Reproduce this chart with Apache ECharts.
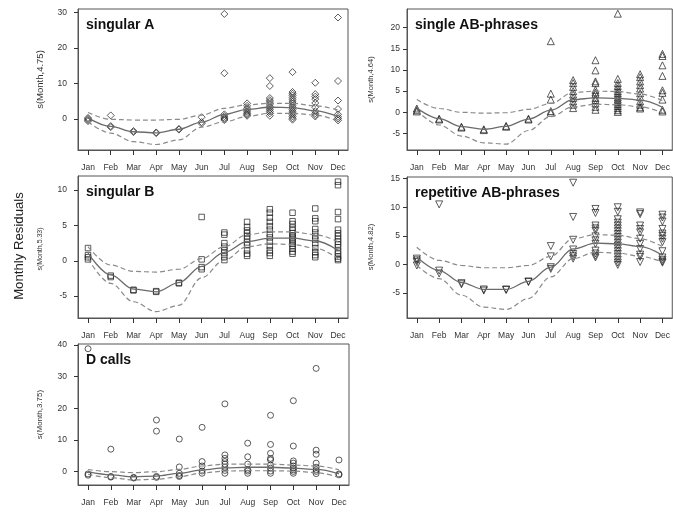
<!DOCTYPE html>
<html>
<head>
<meta charset="utf-8">
<script src="https://cdn.jsdelivr.net/npm/echarts@6/dist/echarts.min.js"></script>
<style>
html, body { margin: 0; padding: 0; background: #ffffff; }
#chart { width: 673px; height: 512px; }
</style>
</head>
<body>
<div id="chart"></div>
<script>
// Month labels for the x axes
const months = ['Jan', 'Feb', 'Mar', 'Apr', 'May', 'Jun', 'Jul', 'Aug', 'Sep', 'Oct', 'Nov', 'Dec'];

// ---- singular A: s(Month,4.75) ----
const singularA_fit   = [0.3, -2.1, -3.6, -3.9, -2.9, -0.9, 1.3, 2.7, 3.3, 3.2, 2.3, 0.7];
const singularA_upper = [1.8, -0.1, -0.3, -0.3, -0.1, 1.1, 3.0, 4.0, 4.4, 4.4, 3.7, 2.5];
const singularA_lower = [-0.8, -4.0, -6.4, -7.2, -5.9, -2.3, -0.8, 0.7, 1.6, 1.6, 1.1, -0.6];
const singularA_resid = [
  [0.3, 0.0, -0.3, -0.6],
  [1.0, -2.0, -2.3],
  [-3.4, -3.7],
  [-3.8, -4.0],
  [-2.8, -3.0],
  [0.5, -0.9, -1.3],
  [29.6, 12.9, 1.3, 0.8, 0.3, 0.0, -0.3],
  [4.4, 3.7, 3.0, 2.5, 2.0, 1.6, 1.2, 0.9],
  [11.5, 9.3, 5.9, 5.3, 4.8, 4.2, 3.6, 3.1, 2.6, 2.1, 1.6, 0.9],
  [13.2, 7.6, 7.1, 6.6, 6.0, 5.4, 4.8, 4.3, 3.7, 3.2, 2.7, 2.2, 1.7, 1.2, 0.7, 0.2, -0.2],
  [10.2, 7.0, 6.3, 5.6, 4.5, 3.3, 2.2, 1.6, 1.1, 0.7],
  [28.6, 10.7, 5.2, 2.8, 1.3, 0.6, 0.1, -0.4]
];
const singularA_ticks = [0, 10, 20, 30];

// ---- single AB-phrases: s(Month,4.64) ----
const singleAB_fit   = [1.0, -1.5, -3.4, -4.0, -3.3, -1.6, 0.5, 3.0, 3.4, 3.3, 2.9, 1.2];
const singleAB_upper = [3.0, 0.9, 0.0, -0.2, -0.1, 0.7, 2.1, 4.7, 5.0, 4.9, 4.3, 2.8];
const singleAB_lower = [0.5, -3.0, -5.6, -7.2, -7.5, -4.3, -1.0, 1.3, 1.9, 1.8, 1.3, -0.1];
const singleAB_resid = [
  [0.9, 0.5, 0.2],
  [-1.5, -1.7],
  [-3.4, -3.6],
  [-4.0, -4.2],
  [-3.2, -3.4],
  [-1.5, -1.7],
  [16.8, 4.4, 3.0, 0.3, -0.1],
  [7.6, 6.9, 6.0, 5.0, 4.2, 3.4, 2.6, 1.8, 1.0],
  [12.3, 9.9, 7.3, 6.9, 5.3, 4.7, 4.3, 3.4, 2.9, 2.1, 1.3, 0.6],
  [23.3, 7.9, 6.9, 6.2, 5.6, 5.0, 4.5, 4.0, 3.5, 3.0, 2.5, 2.0, 1.5, 1.0, 0.5, 0.1],
  [9.0, 8.3, 7.3, 6.4, 5.6, 4.5, 3.6, 2.6, 1.8, 1.2, 0.9],
  [13.8, 13.3, 11.1, 8.6, 5.2, 4.6, 3.0, 0.6, 0.2]
];
const singleAB_ticks = [-5, 0, 5, 10, 15, 20];

// ---- singular B: s(Month,5.33) ----
const singularB_fit   = [1.1, -2.0, -4.0, -4.4, -3.1, -0.8, 1.2, 2.7, 3.2, 3.2, 2.8, 1.5];
const singularB_upper = [2.0, -0.6, -1.5, -1.6, -1.2, 0.3, 2.0, 3.7, 4.1, 4.1, 3.7, 2.7];
const singularB_lower = [0.3, -3.2, -5.8, -7.2, -6.3, -2.4, 0.1, 2.0, 2.4, 2.3, 1.8, 0.3];
const singularB_resid = [
  [1.8, 0.8, 0.5, 0.2],
  [-2.1, -2.3],
  [-4.1, -4.2],
  [-4.3, -4.4],
  [-3.1, -3.2],
  [6.2, 0.2, -0.9, -1.2],
  [4.0, 3.7, 2.5, 2.0, 1.5, 1.1, 0.6, 0.1],
  [5.5, 4.8, 4.3, 3.9, 3.5, 3.1, 2.6, 2.2, 1.5, 1.0, 0.7],
  [7.3, 6.8, 6.1, 5.5, 4.9, 4.4, 3.8, 3.3, 2.7, 2.1, 1.5, 1.1, 0.7],
  [6.8, 5.6, 5.2, 4.7, 4.3, 3.9, 3.6, 3.3, 3.0, 2.7, 2.4, 2.1, 1.7, 1.3, 1.0],
  [7.4, 6.0, 5.6, 4.5, 4.0, 3.5, 3.0, 2.5, 1.8, 1.2, 0.8, 0.5],
  [11.2, 10.7, 6.9, 5.9, 4.4, 3.9, 3.5, 3.1, 2.7, 2.3, 1.9, 1.4, 1.0, 0.6, 0.3, 0.1]
];
const singularB_ticks = [-5, 0, 5, 10];

// ---- repetitive AB-phrases: s(Month,4.82) ----
const repetitiveAB_fit   = [1.3, -1.1, -3.2, -4.4, -4.4, -3.0, -0.5, 2.7, 3.7, 3.6, 3.1, 1.6];
const repetitiveAB_upper = [3.0, 0.7, -0.2, -0.6, -0.6, -0.2, 1.4, 4.5, 5.2, 5.1, 4.5, 3.1];
const repetitiveAB_lower = [-0.2, -2.5, -5.4, -7.5, -7.9, -6.0, -2.2, 1.0, 2.1, 2.0, 1.4, 0.4];
const repetitiveAB_resid = [
  [1.0, 0.7, 0.4, -0.2],
  [10.5, -1.1, -1.6],
  [-3.3, -3.5],
  [-4.4, -4.6],
  [-4.4, -4.5],
  [-3.0, -3.1],
  [3.2, 1.4, -0.5, -0.8],
  [14.3, 8.3, 4.3, 2.6, 1.8, 1.4, 1.0],
  [9.7, 9.0, 6.8, 6.3, 5.9, 4.9, 4.2, 3.6, 2.4, 1.9, 1.5, 1.2],
  [10.0, 9.2, 7.9, 7.3, 6.8, 6.3, 5.8, 5.3, 4.8, 4.3, 3.8, 3.3, 2.8, 2.3, 1.8, 1.3, 0.8, 0.3, -0.1],
  [9.1, 8.8, 6.8, 6.2, 5.6, 4.5, 3.6, 2.7, 1.7, 1.3, 0.4],
  [8.7, 8.2, 7.5, 6.2, 5.4, 5.0, 4.5, 3.9, 2.3, 1.2, 0.8, 0.5, 0.3]
];
const repetitiveAB_ticks = [-5, 0, 5, 10, 15];

// ---- D calls: s(Month,3.75) ----
const dCalls_fit   = [0.0, -1.0, -1.6, -1.4, -0.5, 0.6, 1.2, 1.4, 1.4, 1.1, 0.7, -0.7];
const dCalls_upper = [0.7, 0.0, -0.3, 0.0, 0.7, 1.8, 2.4, 2.4, 2.4, 2.1, 1.8, 0.6];
const dCalls_lower = [-0.8, -1.9, -2.6, -2.4, -1.6, -0.4, 0.2, 0.3, 0.3, 0.2, -0.3, -1.8];
const dCalls_resid = [
  [38.8, -0.7, -1.1],
  [7.1, -1.5, -1.7],
  [-1.8, -2.0],
  [16.3, 12.8, -1.5, -1.8],
  [10.3, 1.5, -0.5, -1.2, -1.5],
  [14.0, 3.2, 1.8, 0.2, -0.5],
  [21.4, 5.3, 4.2, 3.2, 2.4, 1.4, 0.4, -0.5],
  [9.0, 4.7, 2.4, 0.7, 0.2, -0.5],
  [17.8, 8.6, 5.8, 4.2, 3.7, 2.1, 1.1, 0.2, -0.5],
  [22.4, 8.1, 3.4, 2.7, 1.8, 1.1, 0.6, 0.1, -0.5],
  [32.6, 6.8, 5.5, 2.7, 1.4, 0.6, 0.1, -0.6],
  [3.7, -0.7, -1.0]
];
const dCalls_ticks = [0, 10, 20, 30, 40];

// ---- panel layout and styling ----
const FONT = 'Liberation Sans, Arial, Helvetica, sans-serif';
const TICK_COLOR = '#333333';
const panels = [
  { title: 'singular A', yName: 's(Month,4.75)', fit: singularA_fit, upper: singularA_upper, lower: singularA_lower,
    resid: singularA_resid, ticks: singularA_ticks, yMin: -8.75, yMax: 31.0,
    grid: { left: 78, top: 9, width: 270, height: 141 }, symbol: 'diamond', size: 7, rot: 0,
    labelGap: 11, yNamePos: [40, 79.5], yNameSize: 9.5 },
  { title: 'single AB-phrases', yName: 's(Month,4.64)', fit: singleAB_fit, upper: singleAB_upper, lower: singleAB_lower,
    resid: singleAB_resid, ticks: singleAB_ticks, yMin: -8.9, yMax: 24.4,
    grid: { left: 407, top: 9, width: 270, height: 141 }, symbol: 'triangle', size: 7, rot: 0,
    labelGap: 7, yNamePos: [370.5, 79.5], yNameSize: 7.5 },
  { title: 'singular B', yName: 's(Month,5.33)', fit: singularB_fit, upper: singularB_upper, lower: singularB_lower,
    resid: singularB_resid, ticks: singularB_ticks, yMin: -8.1, yMax: 12.0,
    grid: { left: 78, top: 176, width: 270, height: 142 }, symbol: 'rect', size: 5.5, rot: 0,
    labelGap: 11, yNamePos: [40, 249], yNameSize: 7 },
  { title: 'repetitive AB-phrases', yName: 's(Month,4.82)', fit: repetitiveAB_fit, upper: repetitiveAB_upper, lower: repetitiveAB_lower,
    resid: repetitiveAB_resid, ticks: repetitiveAB_ticks, yMin: -9.4, yMax: 15.3,
    grid: { left: 407, top: 177, width: 270, height: 141 }, symbol: 'triangle', size: 7, rot: 180,
    labelGap: 7, yNamePos: [370.5, 247], yNameSize: 7.5 },
  { title: 'D calls', yName: 's(Month,3.75)', fit: dCalls_fit, upper: dCalls_upper, lower: dCalls_lower,
    resid: dCalls_resid, ticks: dCalls_ticks, yMin: -4.2, yMax: 40.3,
    grid: { left: 78, top: 344, width: 271, height: 141 }, symbol: 'circle', size: 6, rot: 0,
    labelGap: 11, yNamePos: [40, 414.5], yNameSize: 8 }
];

const monthIdx = months.map((m, i) => i + 1);
const grids = [], xAxes = [], yAxes = [], series = [], graphics = [];

panels.forEach((p, k) => {
  grids.push(Object.assign({ show: true, borderColor: '#555', borderWidth: 1 }, p.grid));

  xAxes.push({
    type: 'value', gridIndex: k, min: 0.56, max: 12.44,
    axisLine: { show: true, onZero: false, lineStyle: { color: '#555' } },
    splitLine: { show: false },
    axisTick: { show: true, length: 5, customValues: monthIdx, lineStyle: { color: TICK_COLOR, width: 1 } },
    axisLabel: { customValues: monthIdx, margin: 13, fontSize: 8.5, color: '#333', fontFamily: FONT,
                 formatter: v => months[Math.round(v) - 1] || '' }
  });

  yAxes.push({
    type: 'value', gridIndex: k, min: p.yMin, max: p.yMax,
    axisLine: { show: true, onZero: false, lineStyle: { color: '#555' } },
    splitLine: { show: false },
    axisTick: { show: true, length: 4, customValues: p.ticks, lineStyle: { color: TICK_COLOR, width: 1 } },
    axisLabel: { customValues: p.ticks, margin: p.labelGap, fontSize: 8.5, color: '#333', fontFamily: FONT }
  });

  // residual points
  const pts = [];
  p.resid.forEach((vals, i) => vals.forEach(v => pts.push([i + 1, v])));
  series.push({
    type: 'scatter', xAxisIndex: k, yAxisIndex: k, data: pts, silent: true,
    symbol: p.symbol, symbolSize: p.size, symbolRotate: p.rot,
    itemStyle: { color: 'rgba(255,255,255,0)', borderColor: '#1a1a1a', borderWidth: 1, opacity: 0.7 },
    z: 2
  });

  // fitted smooth and its confidence band
  const toXY = arr => arr.map((v, i) => [i + 1, v]);
  series.push({
    type: 'line', xAxisIndex: k, yAxisIndex: k, data: toXY(p.fit), smooth: 0.35, smoothMonotone: 'x',
    symbol: 'none', silent: true, lineStyle: { color: '#6b6b6b', width: 1.3 }, z: 3
  });
  [p.upper, p.lower].forEach(band => {
    series.push({
      type: 'line', xAxisIndex: k, yAxisIndex: k, data: toXY(band), smooth: 0.35, smoothMonotone: 'x',
      symbol: 'none', silent: true, lineStyle: { color: '#8a8a8a', width: 1.2, type: [5, 3] }, z: 3
    });
  });

  // panel heading
  graphics.push({
    type: 'text', left: p.grid.left + 8, top: p.grid.top + 9, z: 10,
    style: { text: p.title, font: 'bold 14px ' + FONT, fill: '#111' }
  });
  // y-axis name
  graphics.push({
    type: 'text', x: p.yNamePos[0], y: p.yNamePos[1], rotation: Math.PI / 2, z: 10,
    style: { text: p.yName, fontSize: p.yNameSize, fontFamily: FONT, fill: '#333', align: 'center', verticalAlign: 'middle' }
  });
});

// shared label for all panels
graphics.push({
  type: 'text', x: 19, y: 246, rotation: Math.PI / 2, z: 10,
  style: { text: 'Monthly Residuals', fontSize: 13.2, fontFamily: FONT, fill: '#222', align: 'center', verticalAlign: 'middle' }
});

const chart = echarts.init(document.getElementById('chart'), null, { renderer: 'canvas' });
chart.setOption({
  animation: false,
  backgroundColor: '#ffffff',
  grid: grids,
  xAxis: xAxes,
  yAxis: yAxes,
  series: series,
  graphic: graphics
});
</script>
</body>
</html>
